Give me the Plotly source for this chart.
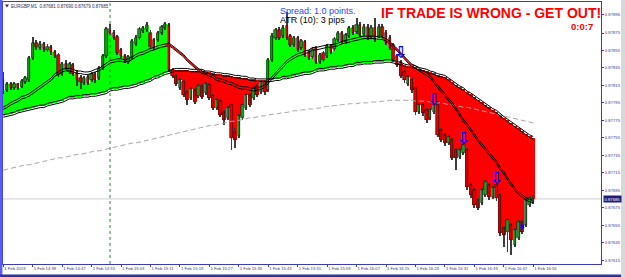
import pandas as pd
import plotly.graph_objects as go

# ---------------- data (prices in points above 0.87000, 1 point = 0.00001) ----------------
BASE = 0.87
PT = 0.00001

open_pts = [
    821, 810, 817, 812, 817, 813, 819, 821, 846, 864,
    858, 862, 856, 859, 853, 850, 828, 840, 830, 838,
    829, 824, 818, 825, 821, 828, 824, 835, 849, 880,
    875, 870, 856, 849, 842, 848, 862, 869, 877, 878,
    875, 867, 867, 875, 881, 884, 833, 826, 812, 819,
    807, 801, 810, 803, 814, 806, 815, 803, 789, 797,
    785, 778, 793, 762, 757, 778, 789, 804, 801, 814,
    807, 819, 810, 844, 869, 878, 872, 883, 872, 861,
    869, 858, 865, 853, 848, 858, 842, 852, 849, 860,
    857, 867, 875, 865, 872, 881, 876, 884, 874, 882,
    870, 881, 872, 882, 875, 869, 861, 849, 842, 830,
    817, 821, 812, 785, 793, 787, 778, 785, 793, 764,
    758, 749, 753, 741, 733, 738, 741, 701, 695, 684,
    680, 690, 701, 687, 701, 690, 652, 647, 655, 632,
    640, 659, 655, 678, 681,
]
close_pts = [
    810, 817, 812, 817, 812, 820, 824, 846, 864, 859,
    862, 857, 859, 853, 849, 827, 840, 835, 840, 828,
    821, 819, 824, 818, 828, 821, 835, 849, 880, 875,
    869, 852, 849, 843, 848, 866, 869, 880, 881, 884,
    859, 858, 875, 882, 885, 833, 826, 817, 821, 804,
    798, 811, 796, 814, 802, 817, 801, 789, 798, 781,
    775, 789, 755, 753, 780, 793, 804, 793, 812, 804,
    819, 807, 844, 872, 878, 869, 881, 869, 861, 869,
    856, 866, 850, 846, 857, 842, 850, 844, 860, 853,
    868, 875, 865, 873, 881, 875, 884, 873, 882, 869,
    881, 867, 882, 872, 864, 858, 844, 838, 826, 821,
    825, 810, 785, 793, 783, 775, 787, 793, 758, 753,
    749, 756, 732, 732, 741, 747, 699, 690, 678, 675,
    695, 704, 687, 698, 686, 646, 644, 661, 638, 649,
    659, 647, 684, 686, 685,
]
high_pts = [
    830, 819, 819, 819, 818, 822, 826, 849, 870, 867,
    866, 865, 862, 861, 856, 852, 842, 844, 842, 841,
    833, 827, 826, 827, 830, 830, 837, 851, 882, 885,
    878, 873, 858, 851, 850, 868, 873, 882, 883, 888,
    878, 869, 877, 884, 888, 886, 835, 828, 824, 821,
    810, 813, 812, 817, 817, 819, 818, 805, 801, 799,
    787, 791, 795, 766, 782, 795, 806, 806, 814, 817,
    821, 821, 846, 875, 881, 882, 884, 899, 874, 872,
    872, 868, 867, 856, 859, 860, 852, 854, 862, 862,
    870, 877, 877, 875, 883, 884, 892, 888, 885, 885,
    884, 892, 885, 885, 878, 873, 864, 851, 844, 833,
    827, 824, 814, 795, 795, 789, 789, 795, 795, 766,
    761, 758, 755, 743, 743, 749, 743, 703, 698, 686,
    698, 707, 703, 700, 703, 692, 654, 663, 657, 652,
    661, 661, 686, 688, 690,
]
low_pts = [
    805, 807, 810, 810, 810, 812, 817, 819, 844, 856,
    856, 853, 853, 850, 846, 825, 826, 833, 828, 826,
    814, 811, 815, 815, 819, 818, 821, 833, 846, 873,
    867, 850, 846, 841, 840, 845, 860, 867, 875, 876,
    857, 856, 865, 873, 878, 830, 824, 814, 810, 802,
    793, 798, 794, 801, 799, 804, 798, 787, 787, 779,
    770, 775, 741, 743, 755, 775, 787, 790, 798, 802,
    805, 804, 807, 842, 867, 867, 869, 867, 859, 859,
    853, 856, 848, 844, 845, 840, 840, 842, 846, 851,
    854, 865, 862, 862, 869, 873, 874, 870, 872, 867,
    868, 865, 869, 869, 861, 856, 842, 836, 824, 818,
    814, 806, 781, 782, 780, 772, 775, 782, 756, 750,
    746, 747, 730, 718, 731, 735, 695, 686, 675, 672,
    678, 687, 684, 685, 683, 643, 630, 624, 621, 630,
    638, 645, 653, 676, 679,
]
slow_ma_pts = [
    780, 781, 782, 783, 785, 786, 787, 788, 789, 790,
    791, 791, 793, 794, 795, 796, 797, 799, 801, 801,
    802, 802, 803, 803, 804, 804, 805, 806, 807, 810,
    811, 811, 812, 813, 813, 814, 815, 817, 818, 820,
    821, 824, 825, 827, 829, 830, 832, 833, 833, 833,
    833, 832, 832, 832, 832, 830, 830, 829, 828, 828,
    827, 827, 826, 825, 825, 824, 824, 822, 822, 821,
    821, 821, 821, 821, 822, 822, 824, 824, 825, 826,
    827, 828, 829, 829, 830, 832, 833, 833, 834, 835,
    835, 836, 836, 837, 838, 838, 840, 840, 841, 841,
    841, 842, 842, 842, 843, 843, 842, 841, 840, 838,
    837, 837, 836, 834, 833, 832, 830, 829, 827, 826,
    825, 822, 819, 815, 813, 811, 807, 805, 802, 798,
    796, 793, 790, 787, 785, 781, 778, 775, 772, 768,
    766, 763, 759, 757, 755,
]
fast_ma_pts = [
    789, 791, 794, 796, 798, 801, 802, 804, 807, 810,
    813, 817, 819, 822, 827, 829, 832, 833, 833, 832,
    830, 830, 829, 829, 830, 832, 833, 836, 840, 842,
    843, 844, 844, 843, 844, 846, 849, 851, 852, 854,
    856, 857, 859, 860, 861, 862, 859, 856, 852, 849,
    844, 840, 836, 833, 830, 829, 827, 825, 822, 821,
    820, 818, 817, 815, 813, 812, 812, 811, 810, 811,
    812, 814, 819, 824, 828, 833, 837, 842, 845, 848,
    850, 851, 853, 854, 857, 857, 858, 859, 860, 860,
    861, 862, 864, 865, 866, 867, 868, 869, 870, 870,
    870, 870, 869, 869, 867, 864, 859, 856, 851, 846,
    842, 838, 836, 833, 830, 827, 825, 819, 814, 810,
    804, 799, 794, 788, 781, 775, 770, 764, 757, 752,
    747, 742, 736, 732, 727, 720, 715, 708, 702, 696,
    692, 688, 685, 683, 682,
]
long_ma_pts = [
    718, 719, 720, 721, 722, 723, 724, 724, 725, 726,
    727, 728, 729, 730, 731, 732, 732, 733, 734, 735,
    736, 736, 737, 738, 739, 740, 740, 741, 742, 743,
    744, 745, 746, 747, 748, 749, 749, 750, 751, 752,
    753, 754, 755, 756, 757, 758, 759, 760, 761, 762,
    763, 764, 765, 766, 767, 768, 769, 769, 770, 771,
    772, 773, 774, 774, 775, 776, 777, 778, 778, 779,
    780, 780, 781, 782, 782, 783, 784, 784, 785, 786,
    786, 787, 787, 788, 788, 789, 789, 790, 791, 791,
    792, 792, 793, 793, 794, 794, 794, 795, 795, 795,
    796, 796, 796, 797, 797, 798, 798, 798, 798, 798,
    798, 798, 797, 797, 797, 797, 796, 796, 795, 795,
    794, 793, 793, 792, 791, 790, 790, 789, 788, 787,
    786, 785, 784, 783, 782, 781, 780, 779, 778, 777,
    776, 775, 774, 773, 772,
]
arrow_bars = [108, 117, 125, 134]
arrow_pts = [851, 797, 753, 707]
exit_bars = [141]
exit_pts = [653]
current_price = 0.87685

y_tick_labels = ["0.87896", "0.87875", "0.87855", "0.87835", "0.87815", "0.87795",
                 "0.87775", "0.87755", "0.87735", "0.87715", "0.87695", "0.87675",
                 "0.87655", "0.87635", "0.87615"]
x_tick_labels = ["1 Feb 2019", "1 Feb 14:39", "1 Feb 14:47", "1 Feb 14:55", "1 Feb 15:03",
                 "1 Feb 15:11", "1 Feb 15:19", "1 Feb 15:27", "1 Feb 15:35", "1 Feb 15:43",
                 "1 Feb 15:51", "1 Feb 15:59", "1 Feb 16:07", "1 Feb 16:15", "1 Feb 16:23",
                 "1 Feb 16:31", "1 Feb 16:39", "1 Feb 16:47", "1 Feb 16:55"]

# ---------------- build ----------------
def to_price(v):
    return [round(BASE + a * PT, 5) for a in v]

O, C, H, L = to_price(open_pts), to_price(close_pts), to_price(high_pts), to_price(low_pts)
S, F, G = to_price(slow_ma_pts), to_price(fast_ma_pts), to_price(long_ma_pts)

times = pd.date_range("2019-02-01 14:31", periods=len(C), freq="min")

Y_MIN, Y_MAX = 0.876105, 0.879105
PLOT_H = 262
per_px = (Y_MAX - Y_MIN) / PLOT_H
off = 1.25 * per_px

fig = go.Figure()

# histogram fill between slow MA and close
fill_colors = ["#00ff00" if c > s else "#ff0000" for c, s in zip(C, S)]
fig.add_trace(go.Bar(x=times, y=[c - s for c, s in zip(C, S)], base=S, width=64000,
                     marker=dict(color=fill_colors, line=dict(width=0)), hoverinfo="skip"))
# wicks
fig.add_trace(go.Bar(x=times, y=[h - l for h, l in zip(H, L)], base=L, width=15000,
                     marker=dict(color="#3c3c3c", line=dict(width=0)), hoverinfo="skip"))
# bodies
body_colors = ["#1c9c1c" if c >= o else "#e80000" for o, c in zip(O, C)]
fig.add_trace(go.Bar(x=times, y=[max(abs(c - o), 0.000008) for o, c in zip(O, C)],
                     base=[min(o, c) for o, c in zip(O, C)], width=38000,
                     marker=dict(color=body_colors, line=dict(color="#111111", width=0.6)),
                     hoverinfo="skip"))

# long MA (dashed gray)
fig.add_trace(go.Scatter(x=times, y=G, mode="lines",
                         line=dict(color="#a8a8a8", width=1, dash="5px,3px"), hoverinfo="skip"))

# double lines for fast and slow MA
for series in (S, F):
    for sgn in (-1, 1):
        fig.add_trace(go.Scatter(x=times, y=[v + sgn * off for v in series], mode="lines",
                                 line=dict(color="#000000", width=1), hoverinfo="skip"))
for a, b in ((44, 55), (103, 112)):
    fig.add_trace(go.Scatter(x=times[a:b], y=F[a:b], mode="lines",
                             line=dict(color="#cc0000", width=1.3), hoverinfo="skip"))

# signal arrows
fig.add_trace(go.Scatter(x=[times[i] for i in arrow_bars], y=to_price(arrow_pts), mode="text",
                         text=["<b>⇩</b>"] * len(arrow_bars),
                         textfont=dict(size=16, color="#0000ff", family="DejaVu Sans"),
                         hoverinfo="skip"))
fig.add_trace(go.Scatter(x=[times[i] for i in exit_bars], y=to_price(exit_pts), mode="text",
                         text=["✖"] * len(exit_bars),
                         textfont=dict(size=7, color="#0000ff", family="DejaVu Sans"),
                         hoverinfo="skip"))

axis_col = "#3c3cb4"
lab_col = "#3a3a8a"
x_left = pd.Timestamp("2019-02-01 14:30:55")
x_right = pd.Timestamp("2019-02-01 17:13:24")

title_txt = "EURGBP,M1  %.5f %.5f %.5f %.5f" % (O[-1], H[-1], L[-1], C[-1])

fig.update_layout(
    width=625, height=277,
    margin=dict(l=3, r=24, t=2, b=13, autoexpand=False),
    paper_bgcolor="white", plot_bgcolor="white",
    showlegend=False, barmode="overlay", bargap=0,
    font=dict(family="Liberation Sans", size=5, color=lab_col),
    title=dict(text=title_txt, x=11 / 625, xanchor="left", xref="container",
               y=1 - 6.5 / 277, yanchor="middle", yref="container",
               font=dict(size=4.5, color="#2a2a5a", family="Liberation Sans")),
    xaxis=dict(type="date", range=[x_left, x_right], tickvals=list(times[::8]),
               ticktext=x_tick_labels, ticks="outside", ticklen=2, tickcolor=axis_col,
               tickangle=0, automargin=False,
               ticklabelposition="outside right", tickfont=dict(size=4.2, color=lab_col),
               showline=True, mirror=True, linecolor=axis_col, linewidth=1,
               showgrid=False, zeroline=False, fixedrange=True),
    yaxis=dict(side="right", range=[Y_MIN, Y_MAX], automargin=False,
               tickvals=[float(t) for t in y_tick_labels], ticktext=y_tick_labels,
               ticks="outside", ticklen=2, tickcolor=axis_col,
               tickfont=dict(size=4.2, color=lab_col),
               showline=True, mirror=True, linecolor=axis_col, linewidth=1,
               showgrid=False, zeroline=False, fixedrange=True),
)

def pxx(p):
    return (p - 3) / 598

def pxy(p):
    return (264 - p) / 262

shapes = [
    dict(type="line", xref="paper", yref="y", x0=0, x1=1, y0=current_price, y1=current_price,
         line=dict(color="#cfcfcf", width=1), layer="below"),
    dict(type="line", xref="x", yref="paper", x0=times[29], x1=times[29], y0=0, y1=1,
         line=dict(color="#2e8b2e", width=1, dash="dot")),
    dict(type="rect", xref="paper", yref="paper", x0=-3 / 598, x1=-0.6 / 598, y0=-13 / 262,
         y1=1 + 2 / 262, fillcolor="#5a5aff", line=dict(width=0)),
    dict(type="rect", xref="paper", yref="paper", x0=-3 / 598, x1=1 + 24 / 598,
         y0=-13 / 262, y1=-10.5 / 262, fillcolor="#3030a0", line=dict(width=0)),
    dict(type="rect", xref="paper", yref="paper", x0=1 + 20 / 598, x1=1 + 24 / 598,
         y0=-13 / 262, y1=1 + 2 / 262, fillcolor="#d8d8d8", line=dict(width=0)),
    # small menu triangle before the symbol label
    dict(type="path", xref="paper", yref="paper",
         path="M %f %f L %f %f L %f %f Z" % (pxx(5), pxy(4.5), pxx(9), pxy(4.5), pxx(7), pxy(7.5)),
         fillcolor="#2a2a5a", line=dict(width=0)),
]
fig.update_layout(shapes=shapes)

ann = [
    dict(text="Spread: 1.0 points.", x=pxx(278), y=pxy(10.5), xanchor="left", yanchor="middle",
         font=dict(size=9, color="#2847ff")),
    dict(text="ATR (10): 3 pips", x=pxx(278), y=pxy(19.5), xanchor="left", yanchor="middle",
         font=dict(size=9, color="#000000")),
    dict(text="<b>IF TRADE IS WRONG - GET OUT!</b>", x=1, y=pxy(13), xanchor="right",
         yanchor="middle", xshift=2, font=dict(size=14, color="#ff0000")),
    dict(text="<b>0:0:7</b>", x=pxx(595), y=pxy(27), xanchor="right", yanchor="middle",
         font=dict(size=9.5, color="#ff0000")),
    dict(text="%.5f" % current_price, x=pxx(603), xref="paper", y=current_price, yref="y",
         xanchor="left", yanchor="middle", bgcolor="#1e1e78", borderpad=0.5,
         font=dict(size=4.2, color="#ffffff")),
]
for a in ann:
    a.setdefault("xref", "paper")
    a.setdefault("yref", "paper")
    a["showarrow"] = False
fig.update_layout(annotations=ann)

fig.write_html("out.html")
